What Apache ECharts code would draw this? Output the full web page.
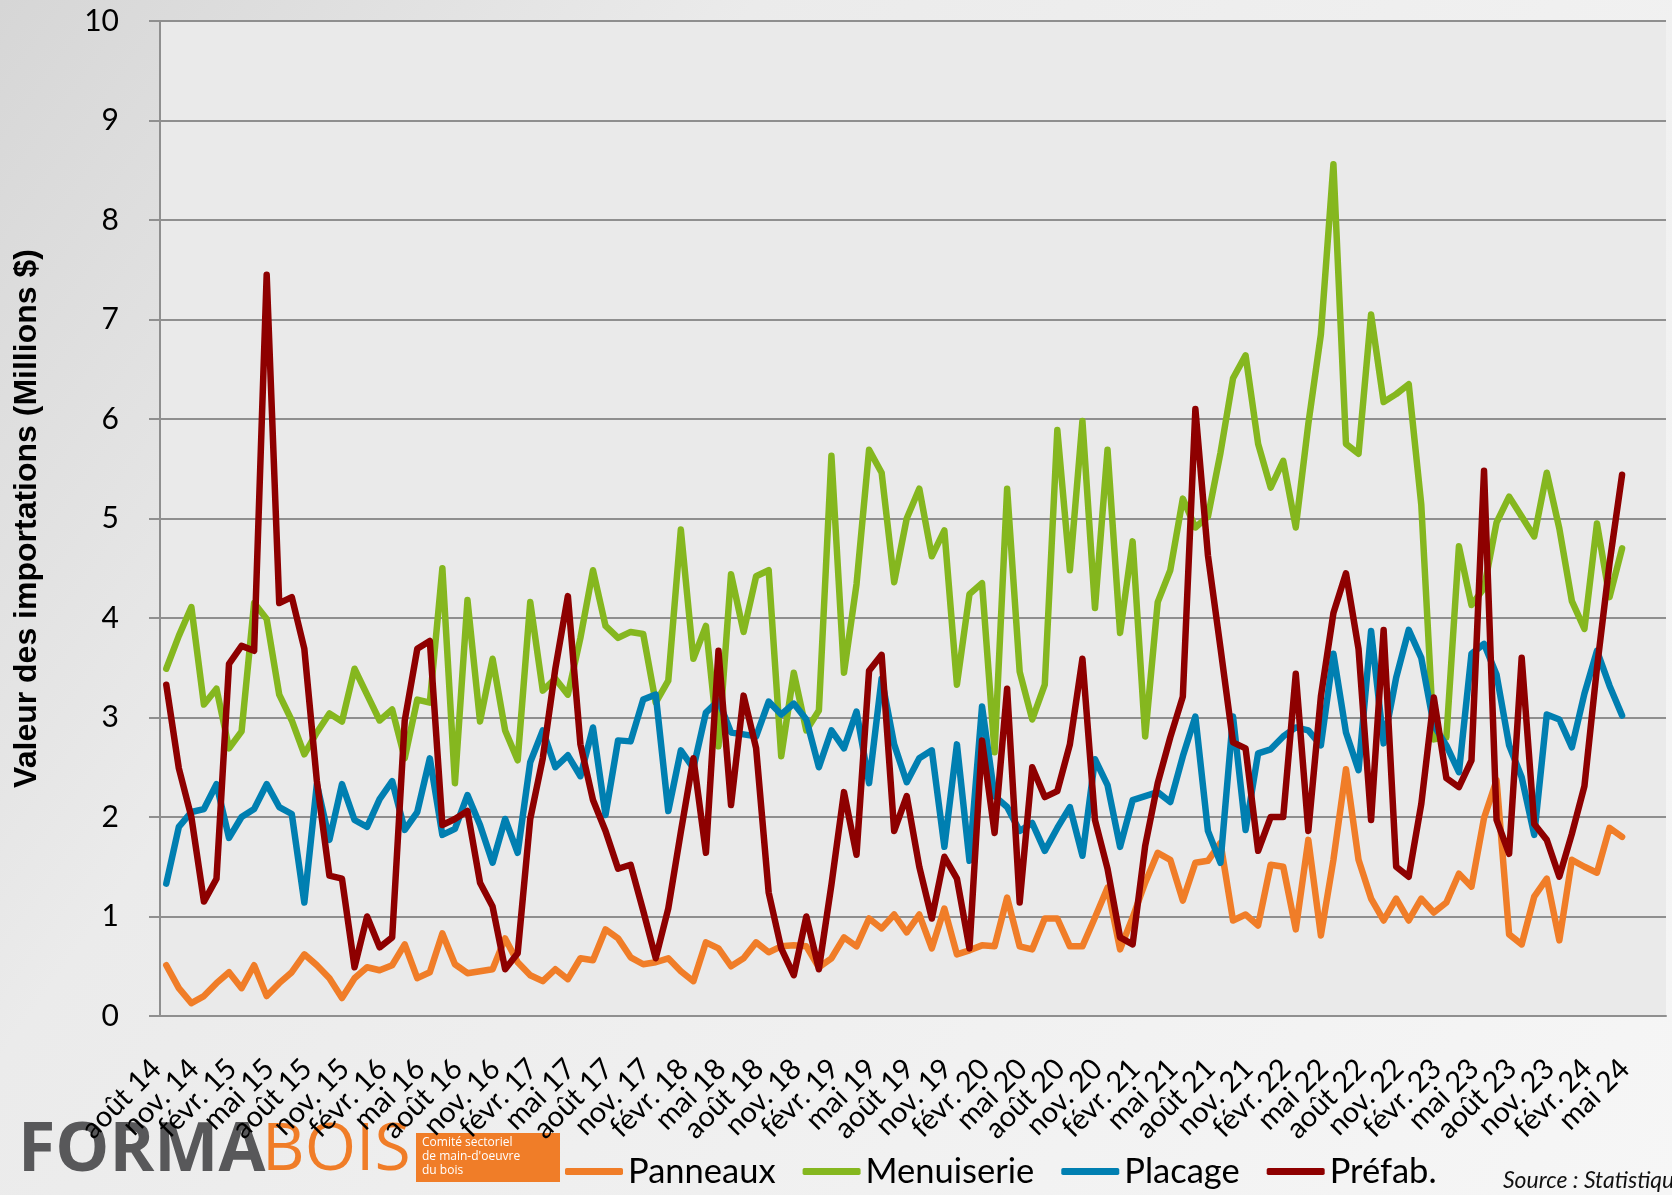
<!DOCTYPE html>
<html>
<head>
<meta charset="utf-8">
<script src="https://cdn.jsdelivr.net/npm/echarts@6/dist/echarts.min.js"></script>
<style>
  html, body { margin: 0; padding: 0; }
  #main { width: 1672px; height: 1195px; }
</style>
</head>
<body>
<div id="main"></div>
<script>
// mois, à partir d'août 2014 (120 catégories sur l'axe, données jusqu'en avril 2024)
var nomsMois = ['janv.','févr.','mars','avr.','mai','juin','juil.','août','sept.','oct.','nov.','déc.'];
var nbCategories = 120;

// valeurs des importations (millions $)
var panneaux = [0.51,0.28,0.13,0.2,0.33,0.44,0.28,0.51,0.2,0.33,0.44,0.62,0.51,0.38,0.18,0.38,0.49,0.46,0.51,0.72,
  0.38,0.44,0.83,0.52,0.43,0.45,0.47,0.78,0.54,0.41,0.35,0.47,0.37,0.58,0.56,0.87,0.78,0.59,0.52,0.54,
  0.58,0.45,0.35,0.74,0.68,0.5,0.58,0.74,0.64,0.7,0.71,0.7,0.49,0.58,0.79,0.7,0.98,0.88,1.02,0.84,
  1.02,0.68,1.08,0.62,0.66,0.71,0.7,1.19,0.7,0.67,0.98,0.98,0.7,0.7,0.99,1.29,0.67,0.99,1.34,1.64,
  1.57,1.16,1.54,1.56,1.74,0.96,1.02,0.91,1.52,1.5,0.87,1.77,0.81,1.57,2.48,1.57,1.18,0.96,1.18,0.96,
  1.18,1.04,1.14,1.43,1.3,1.99,2.37,0.82,0.72,1.2,1.38,0.76,1.57,1.5,1.44,1.89,1.8];
var menuiserie = [3.49,3.82,4.11,3.13,3.29,2.69,2.86,4.15,3.99,3.23,2.97,2.63,2.85,3.04,2.96,3.49,3.23,2.97,3.08,2.59,
  3.18,3.15,4.5,2.34,4.18,2.96,3.59,2.87,2.57,4.16,3.27,3.39,3.23,3.8,4.48,3.92,3.8,3.86,3.84,3.15,
  3.37,4.89,3.59,3.92,2.71,4.44,3.86,4.42,4.48,2.61,3.45,2.87,3.07,5.63,3.45,4.34,5.69,5.46,4.36,5.0,
  5.3,4.62,4.88,3.33,4.24,4.35,2.65,5.3,3.46,2.98,3.33,5.89,4.48,5.98,4.1,5.69,3.85,4.77,2.81,4.16,
  4.48,5.2,4.91,5.02,5.66,6.41,6.64,5.75,5.31,5.58,4.91,5.95,6.85,8.56,5.75,5.65,7.05,6.17,6.25,6.35,
  5.14,2.78,2.8,4.72,4.13,4.3,4.96,5.22,5.02,4.82,5.46,4.9,4.17,3.89,4.95,4.21,4.7];
var placage = [1.33,1.9,2.05,2.08,2.33,1.79,2.0,2.08,2.33,2.1,2.03,1.14,2.33,1.77,2.33,1.97,1.9,2.18,2.36,1.87,
  2.05,2.59,1.82,1.88,2.22,1.92,1.54,1.98,1.64,2.55,2.87,2.5,2.62,2.41,2.9,2.02,2.77,2.76,3.18,3.23,
  2.06,2.67,2.49,3.05,3.17,2.85,2.83,2.81,3.16,3.03,3.14,2.98,2.5,2.87,2.69,3.06,2.34,3.39,2.73,2.35,
  2.59,2.67,1.7,2.73,1.56,3.11,2.21,2.1,1.86,1.94,1.66,1.89,2.1,1.61,2.58,2.32,1.7,2.17,2.21,2.25,
  2.15,2.61,3.01,1.86,1.54,3.01,1.87,2.64,2.68,2.81,2.9,2.87,2.72,3.64,2.85,2.47,3.87,2.74,3.4,3.88,
  3.6,2.92,2.72,2.45,3.64,3.74,3.43,2.72,2.4,1.82,3.03,2.98,2.7,3.24,3.67,3.32,3.02];
var prefab = [3.33,2.49,2.0,1.15,1.38,3.54,3.72,3.67,7.45,4.15,4.21,3.69,2.36,1.41,1.38,0.49,1.0,0.69,0.79,2.97,
  3.69,3.77,1.92,1.98,2.06,1.34,1.1,0.47,0.63,1.98,2.59,3.49,4.22,2.73,2.17,1.86,1.48,1.52,1.06,0.58,
  1.08,1.85,2.59,1.64,3.67,2.12,3.22,2.69,1.24,0.68,0.41,1.0,0.47,1.32,2.25,1.62,3.47,3.63,1.86,2.21,
  1.5,0.98,1.6,1.38,0.68,2.77,1.84,3.29,1.14,2.5,2.2,2.26,2.73,3.59,1.97,1.48,0.79,0.72,1.71,2.34,
  2.8,3.21,6.1,4.63,3.7,2.75,2.69,1.66,2.0,2.0,3.44,1.86,3.21,4.05,4.45,3.69,1.97,3.88,1.5,1.4,
  2.13,3.2,2.39,2.3,2.57,5.48,1.97,1.63,3.6,1.93,1.77,1.4,1.83,2.31,3.5,4.55,5.44];

var seriesNoms = ['Panneaux','Menuiserie','Placage','Préfab.'];
var couleurs = ['#F07D28','#85B71F','#007FB1','#8E0000'];

var categories = [];
for (var i = 0; i < nbCategories; i++) {
    var m = 7 + i;
    categories.push(nomsMois[m % 12] + ' ' + (14 + Math.floor(m / 12)));
}

var gris = '#8F8F8F';

// étiquettes un trimestre sur deux sur chaque axe (sinon echarts masque la première/dernière)
function etiquettes(reste) {
    return {
        interval: function (idx) { return idx % 6 === reste; },
        rotate: 45, margin: 38, padding: [0, 14, 0, 0],
        fontFamily: 'Lato', fontSize: 29, color: '#000'
    };
}

function serie(nom, data, couleur) {
    return {
        name: nom,
        type: 'line',
        data: data,
        symbol: 'none',
        color: couleur,
        lineStyle: { width: 6.5, color: couleur, cap: 'round', join: 'round' }
    };
}

var myChart = echarts.init(document.getElementById('main'));
var option = {
    animation: false,
    backgroundColor: new echarts.graphic.LinearGradient(0, 0, 1, 1, [
        { offset: 0, color: '#d6d6d6' },
        { offset: 0.3, color: '#ebebeb' },
        { offset: 1, color: '#f6f6f6' }
    ]),
    grid: {
        left: 160, right: 6, top: 21, bottom: 179,
        show: true, backgroundColor: '#EAEAEA', borderWidth: 0
    },
    legend: {
        data: seriesNoms,
        left: 565, top: 1154,
        padding: 0,
        icon: 'roundRect',
        itemWidth: 58, itemHeight: 7, itemGap: 27,
        textStyle: { fontFamily: 'Lato', fontSize: 34.5, color: '#000' }
    },
    xAxis: [{
        type: 'category',
        data: categories,
        boundaryGap: true,
        axisLine: { lineStyle: { color: gris, width: 2 } },
        axisTick: { interval: 2, length: 12, lineStyle: { color: gris, width: 2 } },
        axisLabel: etiquettes(0)
    }, {
        type: 'category',
        data: categories,
        position: 'bottom',
        boundaryGap: true,
        axisLine: { show: false },
        axisTick: { inside: true, interval: 2, length: 12, lineStyle: { color: gris, width: 2 } },
        axisLabel: etiquettes(3)
    }],
    yAxis: {
        type: 'value',
        min: 0, max: 10, interval: 1,
        name: 'Valeur des importations (Millions $)',
        nameLocation: 'middle',
        nameGap: 117,
        nameRotate: 90,
        nameTextStyle: { fontFamily: 'Liberation Sans', fontWeight: 'bold', fontSize: 32, color: '#000' },
        axisLine: { show: true, lineStyle: { color: gris, width: 2 } },
        axisTick: { show: true, length: 11, lineStyle: { color: gris, width: 2 } },
        splitLine: { lineStyle: { color: gris, width: 2 } },
        axisLabel: { margin: 41, fontFamily: 'Lato', fontSize: 30, color: '#000' }
    },
    graphic: [
        { type: 'text', left: 18, top: 1118,
          style: { text: 'FORMA', font: 'bold 68px "Open Sans"', fill: '#58585A' } },
        { type: 'text', left: 262, top: 1118,
          style: { text: 'BOIS', font: '66px "Open Sans"', fill: '#F07D28' } },
        { type: 'rect', left: 416, top: 1133, shape: { width: 144, height: 49 },
          style: { fill: '#F07D28' } },
        { type: 'text', left: 422, top: 1136,
          style: { text: 'Comité sectoriel\nde main-d\'oeuvre\ndu bois', font: '12px "Open Sans"',
                   fill: '#fff', lineHeight: 14 } },
        { type: 'text', left: 1503, top: 1169,
          style: { text: 'Source : Statistique Canada', font: 'italic 23px Lato', fill: '#111' } }
    ],
    series: [
        serie(seriesNoms[0], panneaux, couleurs[0]),
        serie(seriesNoms[1], menuiserie, couleurs[1]),
        serie(seriesNoms[2], placage, couleurs[2]),
        serie(seriesNoms[3], prefab, couleurs[3])
    ]
};
myChart.setOption(option);
</script>
</body>
</html>
